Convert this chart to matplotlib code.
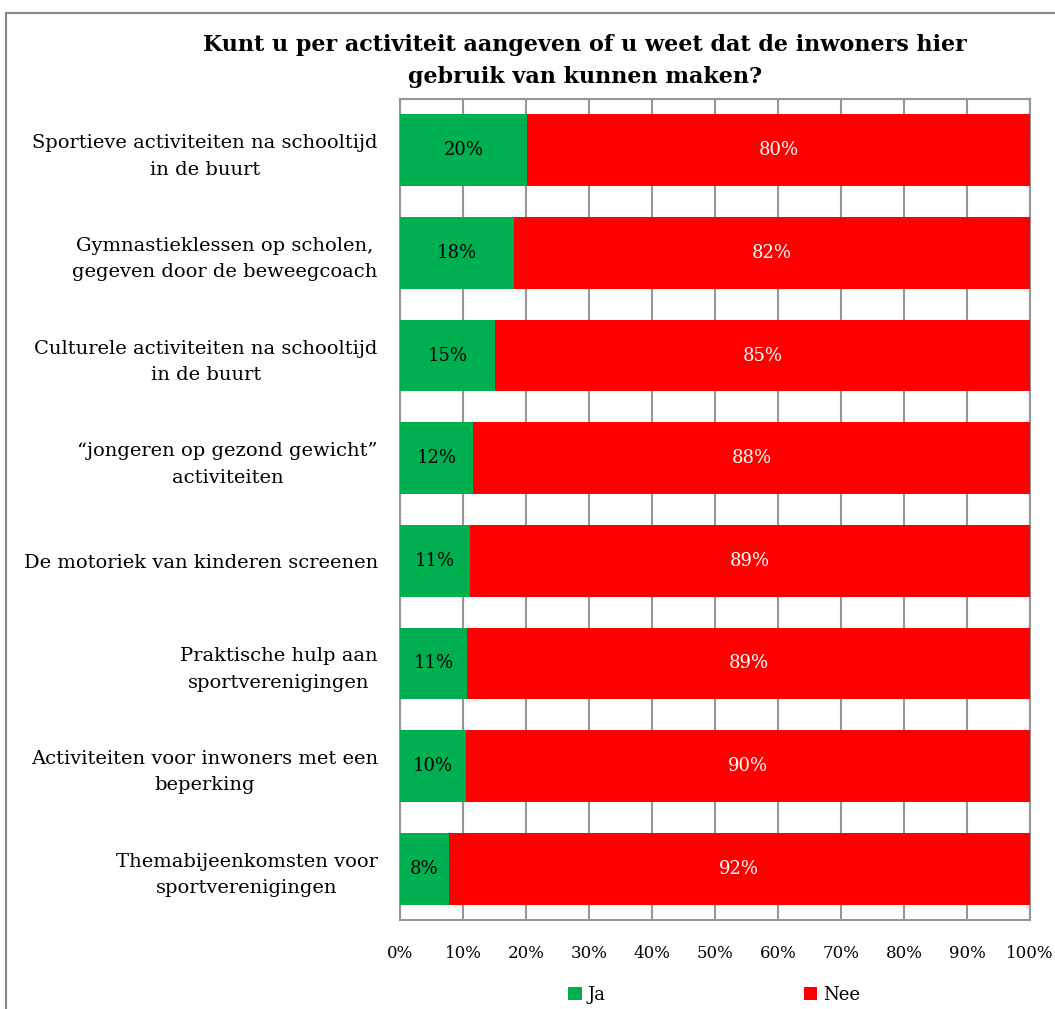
import matplotlib
matplotlib.use("Agg")
import matplotlib.pyplot as plt
from matplotlib.lines import Line2D

categories = [
    "Sportieve activiteiten na schooltijd\nin de buurt",
    "Gymnastieklessen op scholen,\ngegeven door de beweegcoach",
    "Culturele activiteiten na schooltijd\nin de buurt",
    "\u201cjongeren op gezond gewicht\u201d\nactiviteiten",
    "De motoriek van kinderen screenen",
    "Praktische hulp aan\nsportverenigingen",
    "Activiteiten voor inwoners met een\nbeperking",
    "Themabijeenkomsten voor\nsportverenigingen",
]
ja = [20.2, 18.1, 15.1, 11.6, 11.1, 10.6, 10.4, 7.7]
nee = [79.8, 81.9, 84.9, 88.4, 88.9, 89.4, 89.6, 92.3]
series_names = ["Ja", "Nee"]
xticks = [0, 10, 20, 30, 40, 50, 60, 70, 80, 90, 100]
title = "Kunt u per activiteit aangeven of u weet dat de inwoners hier\ngebruik van kunnen maken?"

plt.rcParams['font.family'] = ['DejaVu Serif']
GREEN = "#00B050"
RED = "#FF0000"
GRID = "#969696"

fig = plt.figure(figsize=(10.55, 10.09), dpi=100)
ax = fig.add_axes([400/1055, 1-920/1009, 630/1055, 821/1009])

y = list(range(len(categories)))
ax.barh(y, ja, height=0.7, color=GREEN, label=series_names[0], zorder=3)
ax.barh(y, nee, left=ja, height=0.7, color=RED, label=series_names[1], zorder=3)

for i in y:
    ax.text(ja[i]/2, i, f"{round(ja[i])}%", ha='center', va='center',
            fontsize=13, color='black', zorder=4)
    ax.text(ja[i] + nee[i]/2, i, f"{round(nee[i])}%", ha='center', va='center',
            fontsize=13, color='white', zorder=4)

ax.set_xlim(0, 100)
ax.set_ylim(len(categories) - 0.5, -0.5)
ax.set_xticks(xticks)
ax.set_xticklabels([f"{t}%" for t in xticks], fontsize=12)
ax.set_yticks(y)
ax.set_yticklabels(categories, fontsize=14, multialignment='center', linespacing=1.6)
ax.tick_params(axis='both', length=0)
ax.tick_params(axis='x', pad=18)
ax.tick_params(axis='y', pad=16)
ax.xaxis.grid(True, color=GRID, linewidth=1.5, zorder=0)
ax.set_axisbelow(True)
for s in ax.spines.values():
    s.set_color(GRID)
    s.set_linewidth(1.5)

fig.text(585/1055, 1-61/1009, title, ha='center', va='center', fontsize=16,
         fontweight='bold', linespacing=1.6)

leg = fig.legend(loc='center', bbox_to_anchor=(714/1055, 1-995/1009), ncol=2,
                 frameon=False, fontsize=13, handlelength=0.75, handleheight=0.75,
                 columnspacing=11, handletextpad=0.3)

fig.add_artist(Line2D([6/1055, 6/1055], [0, 1-13/1009], color="#888888", linewidth=1.5))
fig.add_artist(Line2D([6/1055, 1], [1-13/1009, 1-13/1009], color="#888888", linewidth=1.5))

fig.savefig("out.png", dpi=100)
